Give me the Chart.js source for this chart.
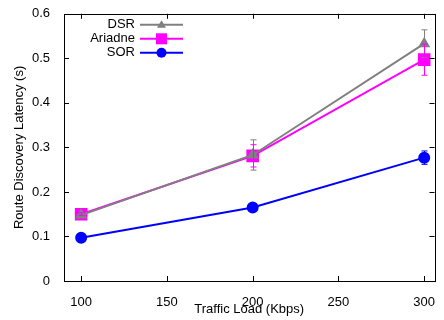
<!DOCTYPE html>
<html>
<head>
<meta charset="utf-8">
<script src="https://cdn.jsdelivr.net/npm/chart.js@4.4.1/dist/chart.umd.min.js"></script>
<style>
  html, body { margin: 0; padding: 0; background: #fff; }
  #wrap { width: 444px; height: 320px; }
</style>
</head>
<body>
<div id="wrap"><canvas id="chart" width="444" height="320"></canvas></div>
<script>
// Data
const trafficLoad = [100, 200, 300];
const xTicks = [100, 150, 200, 250, 300];
const yTicks = [0, 0.1, 0.2, 0.3, 0.4, 0.5, 0.6];

const dsrLatency = [0.148, 0.283, 0.533];
const dsrErr = [0.004, 0.034, 0.031];
const ariadneLatency = [0.150, 0.281, 0.497];
const ariadneErr = [0.003, 0.025, 0.035];
const sorLatency = [0.097, 0.165, 0.277];
const sorErr = [0.002, 0.003, 0.015];

const FONT = '"Liberation Sans", Arial, sans-serif';

function pts(vals) {
    return trafficLoad.map((x, i) => ({ x: x, y: vals[i] }));
}

// gnuplot style error bars
const errorBars = {
    id: 'errorBars',
    afterDatasetsDraw(chart) {
        const ctx = chart.ctx;
        const xs = chart.scales.x, ys = chart.scales.y;
        chart.data.datasets.forEach(ds => {
            if (!ds.err) return;
            ctx.save();
            ctx.strokeStyle = ds.borderColor;
            ctx.lineWidth = 1;
            ds.data.forEach((p, i) => {
                const px = Math.round(xs.getPixelForValue(p.x)) + 0.5;
                const top = ys.getPixelForValue(p.y + ds.err[i]);
                const bot = ys.getPixelForValue(p.y - ds.err[i]);
                ctx.beginPath();
                ctx.moveTo(px, top); ctx.lineTo(px, bot);
                ctx.moveTo(px - 3, top); ctx.lineTo(px + 3, top);
                ctx.moveTo(px - 3, bot); ctx.lineTo(px + 3, bot);
                ctx.stroke();
            });
            ctx.restore();
        });
    }
};

// frame with inward ticks on every side, plus key in top left
const frame = {
    id: 'frame',
    afterDraw(chart) {
        const ctx = chart.ctx;
        const a = chart.chartArea;
        const xs = chart.scales.x, ys = chart.scales.y;
        ctx.save();
        ctx.strokeStyle = '#000';
        ctx.lineWidth = 1;
        ctx.strokeRect(Math.round(a.left) + 0.5, Math.round(a.top) + 0.5,
            Math.round(a.right - a.left), Math.round(a.bottom - a.top));
        ctx.beginPath();
        xTicks.forEach(v => {
            const px = Math.round(xs.getPixelForValue(v)) + 0.5;
            ctx.moveTo(px, a.bottom); ctx.lineTo(px, a.bottom - 5);
            ctx.moveTo(px, a.top); ctx.lineTo(px, a.top + 5);
        });
        yTicks.forEach(v => {
            const py = Math.round(ys.getPixelForValue(v)) + 0.5;
            ctx.moveTo(a.left, py); ctx.lineTo(a.left + 5, py);
            ctx.moveTo(a.right, py); ctx.lineTo(a.right - 5, py);
        });
        ctx.stroke();

        // key
        ctx.font = '13px ' + FONT;
        ctx.textAlign = 'right';
        ctx.textBaseline = 'middle';
        const textRight = a.left + 71;
        const lx0 = a.left + 76, lx1 = a.left + 119;
        chart.data.datasets.forEach((ds, i) => {
            const y = a.top + 11 + i * 14;
            ctx.fillStyle = '#000';
            ctx.fillText(ds.label, textRight, y);
            ctx.strokeStyle = ds.borderColor;
            ctx.lineWidth = 2;
            ctx.beginPath();
            ctx.moveTo(lx0, y); ctx.lineTo(lx1, y);
            ctx.stroke();
            const cx = (lx0 + lx1) / 2;
            ctx.fillStyle = ds.borderColor;
            ctx.beginPath();
            if (ds.pointStyle === 'triangle') {
                ctx.moveTo(cx, y - 4.5); ctx.lineTo(cx + 4.5, y + 3); ctx.lineTo(cx - 4.5, y + 3);
                ctx.closePath(); ctx.fill();
            } else if (ds.pointStyle === 'rect') {
                ctx.fillRect(cx - 5.5, y - 5.5, 11, 11);
            } else {
                ctx.arc(cx, y, 5, 0, Math.PI * 2); ctx.fill();
            }
        });
        ctx.restore();
    }
};

new Chart(document.getElementById('chart').getContext('2d'), {
    type: 'line',
    data: {
        datasets: [
            {
                label: 'DSR',
                data: pts(dsrLatency),
                err: dsrErr,
                borderColor: '#808080',
                backgroundColor: '#808080',
                borderWidth: 2,
                pointStyle: 'triangle',
                pointRadius: 5
            },
            {
                label: 'Ariadne',
                data: pts(ariadneLatency),
                err: ariadneErr,
                borderColor: '#ff00ff',
                backgroundColor: '#ff00ff',
                borderWidth: 2,
                pointStyle: 'rect',
                pointRadius: 7.5
            },
            {
                label: 'SOR',
                data: pts(sorLatency),
                err: sorErr,
                borderColor: '#0000ff',
                backgroundColor: '#0000ff',
                borderWidth: 2,
                pointStyle: 'circle',
                pointRadius: 5
            }
        ]
    },
    options: {
        responsive: false,
        animation: false,
        layout: { padding: { left: 0, right: 7, top: 11, bottom: 0 } },
        plugins: {
            legend: { display: false },
            tooltip: { enabled: false }
        },
        scales: {
            x: {
                type: 'linear',
                min: 90,
                max: 306,
                afterBuildTicks: s => { s.ticks = xTicks.map(v => ({ value: v })); },
                afterFit: s => { s.height = 39; },
                grid: { display: false },
                border: { display: false },
                ticks: { color: '#000', font: { family: FONT, size: 13 }, padding: 6 },
                title: {
                    display: true,
                    text: 'Traffic Load (Kbps)',
                    color: '#000',
                    font: { family: FONT, size: 13 },
                    padding: { top: 0, bottom: 3 }
                }
            },
            y: {
                min: 0,
                max: 0.6,
                afterBuildTicks: s => { s.ticks = yTicks.map(v => ({ value: v })); },
                afterFit: s => { s.width = 64; },
                grid: { display: false },
                border: { display: false },
                ticks: {
                    color: '#000',
                    font: { family: FONT, size: 13 },
                    padding: 6,
                    callback: v => String(Math.round(v * 10) / 10)
                },
                title: {
                    display: true,
                    text: 'Route Discovery Latency (s)',
                    color: '#000',
                    font: { family: FONT, size: 13 },
                    padding: { top: 12, bottom: 0 }
                }
            }
        }
    },
    plugins: [errorBars, frame]
});
</script>
</body>
</html>
